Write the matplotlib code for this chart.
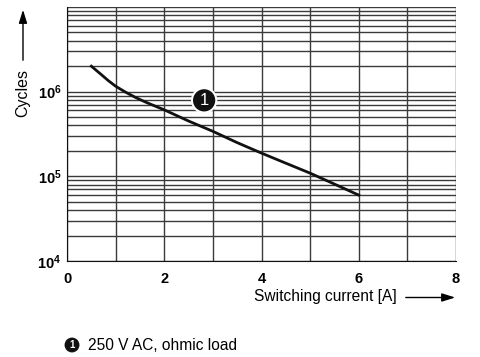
import numpy as np
import matplotlib
matplotlib.use("Agg")
import matplotlib.pyplot as plt
from matplotlib.ticker import FixedLocator, FixedFormatter, NullFormatter

plt.rcParams['font.family'] = ['Liberation Sans', 'DejaVu Sans']
plt.rcParams['mathtext.fontset'] = 'custom'
plt.rcParams['mathtext.rm'] = 'Liberation Sans'
plt.rcParams['mathtext.bf'] = 'Liberation Sans:bold'

# curve
current = [0.5, 0.7, 0.85, 1.0, 1.2, 1.4, 1.6, 1.8, 2.0, 2.5, 3.0, 3.5, 4.0, 4.5, 5.0, 5.5, 6.0]
cycles = [2.0e6, 1.6e6, 1.35e6, 1.16e6, 9.9e5, 8.6e5, 7.6e5, 6.8e5, 6.1e5,
          4.5e5, 3.4e5, 2.5e5, 1.88e5, 1.43e5, 1.09e5, 8.1e4, 6.0e4]

x_ticks = [0, 2, 4, 6, 8]
y_ticks = [1e4, 1e5, 1e6]
y_labels = [r'$\mathbf{10^{4}}$', r'$\mathbf{10^{5}}$', r'$\mathbf{10^{6}}$']
label_text = "250 V AC, ohmic load"

W, H = 481, 357
fig = plt.figure(figsize=(W / 100, H / 100), dpi=100)
ax = fig.add_axes([67 / W, 1 - 261 / H, (456 - 67) / W, (261 - 7) / H])

ax.set_yscale('log')
ax.set_xlim(0, 8)
ax.set_ylim(1e4, 1e7)

# grid: vertical every 1 A, horizontal at 1..9 per decade
for xv in range(0, 9):
    ax.axvline(xv, color='#3a3a3a', lw=1.0, zorder=1)
for dec in [1e4, 1e5, 1e6]:
    for m in range(1, 10):
        ax.axhline(dec * m, color='#3a3a3a', lw=1.0, zorder=1)
ax.axhline(1e7, color='#3a3a3a', lw=1.0, zorder=1)

ax.plot(current, cycles, color='#111111', lw=2.0, zorder=3, solid_joinstyle='round')

ax.annotate('1', xy=(2.82, 7.9e5), ha='center', va='center', color='white',
            fontsize=12, zorder=4,
            bbox=dict(boxstyle='circle,pad=0.28', fc='#111111', ec='white', lw=1.5))

for s in ax.spines.values():
    s.set_visible(False)
ax.spines['left'].set_visible(True)
ax.spines['bottom'].set_visible(True)
ax.spines['left'].set_color('#111111')
ax.spines['bottom'].set_color('#111111')

ax.xaxis.set_major_locator(FixedLocator(x_ticks))
ax.set_xticklabels([str(v) for v in x_ticks], fontweight='bold', fontsize=10.5)
ax.yaxis.set_major_locator(FixedLocator(y_ticks))
ax.yaxis.set_major_formatter(FixedFormatter(y_labels))
ax.yaxis.set_minor_formatter(NullFormatter())
ax.tick_params(axis='x', length=0, pad=8)
ax.tick_params(axis='y', which='both', length=0, pad=4, labelsize=10.5)

# axis titles with arrows
fig.text(23 / W, 1 - 93 / H, 'Cycles', rotation=90, ha='center', va='center', fontsize=11.5)
ax.annotate('', xy=(23 / W, 1 - 7 / H), xytext=(23 / W, 1 - 63 / H),
            xycoords='figure fraction', textcoords='figure fraction',
            arrowprops=dict(arrowstyle='-|>,head_length=0.8,head_width=0.25', color='black', lw=1))
fig.text(325 / W, 1 - 297 / H, 'Switching current [A]', ha='center', va='center', fontsize=11.2)
ax.annotate('', xy=(458 / W, 1 - 297.5 / H), xytext=(403 / W, 1 - 297.5 / H),
            xycoords='figure fraction', textcoords='figure fraction',
            arrowprops=dict(arrowstyle='-|>,head_length=0.8,head_width=0.25', color='black', lw=1))

# bottom legend
fig.text(72 / W, 1 - 345 / H, '1', ha='center', va='center', color='white',
         fontsize=7, fontweight='bold',
         bbox=dict(boxstyle='circle,pad=0.25', fc='#111111', ec='none'))
fig.text(88 / W, 1 - 345 / H, label_text, ha='left', va='center', fontsize=11.2)

fig.savefig('out.png', dpi=100)
